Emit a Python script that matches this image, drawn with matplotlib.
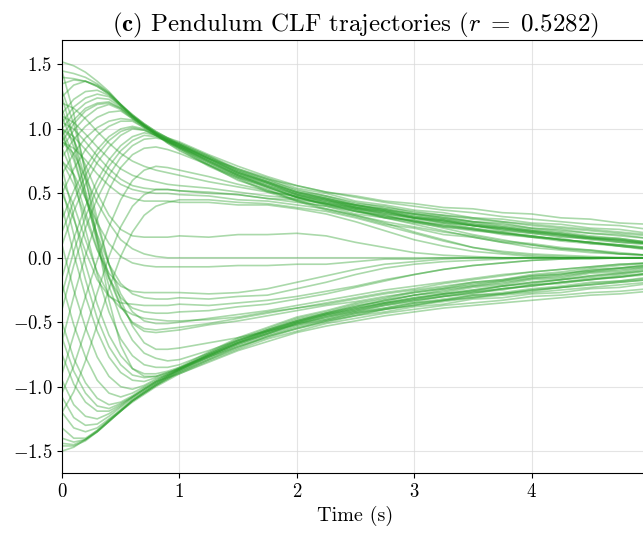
import numpy as np
import matplotlib
matplotlib.use('Agg')
import matplotlib.pyplot as plt

plt.rcParams['font.family'] = 'serif'
plt.rcParams['font.serif'] = ['cmr10']
plt.rcParams['mathtext.fontset'] = 'cm'
plt.rcParams['axes.formatter.use_mathtext'] = True

# sample times (s)
t = [0.0, 0.1, 0.2, 0.3, 0.4, 0.5, 0.6, 0.7, 0.8, 0.9,
	1.0, 1.25, 1.5, 1.75, 2.0, 2.25, 2.5, 2.75, 3.0, 3.25, 3.5, 3.75, 4.0, 4.25, 4.5, 4.75, 5.0]

# trajectories joining the upper bundle
upper = [
	[1.52, 1.49, 1.44, 1.37, 1.29, 1.19, 1.10, 1.03, 0.97, 0.93, 0.90, 0.80, 0.71, 0.63, 0.56, 0.51, 0.47, 0.43, 0.40, 0.37, 0.35, 0.32, 0.30, 0.28, 0.26, 0.25, 0.22],
	[1.45, 1.43, 1.40, 1.35, 1.28, 1.19, 1.10, 1.03, 0.97, 0.92, 0.88, 0.77, 0.67, 0.59, 0.51, 0.46, 0.40, 0.37, 0.32, 0.30, 0.26, 0.24, 0.21, 0.19, 0.16, 0.15, 0.12],
	[1.40, 1.39, 1.37, 1.33, 1.27, 1.18, 1.10, 1.03, 0.97, 0.91, 0.86, 0.74, 0.64, 0.55, 0.47, 0.42, 0.36, 0.33, 0.28, 0.26, 0.22, 0.20, 0.16, 0.15, 0.11, 0.10, 0.07],
	[1.25, 1.34, 1.37, 1.34, 1.28, 1.19, 1.11, 1.04, 0.98, 0.93, 0.89, 0.79, 0.69, 0.62, 0.54, 0.50, 0.44, 0.41, 0.37, 0.35, 0.31, 0.30, 0.27, 0.26, 0.23, 0.22, 0.19],
	[1.12, 1.23, 1.29, 1.30, 1.26, 1.18, 1.10, 1.03, 0.97, 0.92, 0.87, 0.75, 0.65, 0.56, 0.49, 0.43, 0.39, 0.34, 0.31, 0.27, 0.25, 0.21, 0.19, 0.16, 0.15, 0.12, 0.11],
	[1.05, 1.17, 1.24, 1.27, 1.25, 1.18, 1.10, 1.03, 0.96, 0.90, 0.85, 0.72, 0.62, 0.52, 0.45, 0.38, 0.33, 0.28, 0.24, 0.20, 0.17, 0.13, 0.11, 0.08, 0.06, 0.04, 0.02],
	[1.00, 1.12, 1.20, 1.24, 1.23, 1.17, 1.09, 1.02, 0.96, 0.92, 0.88, 0.77, 0.66, 0.59, 0.51, 0.47, 0.41, 0.38, 0.34, 0.32, 0.28, 0.27, 0.23, 0.22, 0.19, 0.18, 0.15],
	[0.95, 1.07, 1.16, 1.20, 1.21, 1.16, 1.09, 1.02, 0.96, 0.91, 0.86, 0.75, 0.64, 0.57, 0.49, 0.45, 0.39, 0.36, 0.31, 0.29, 0.25, 0.23, 0.20, 0.18, 0.15, 0.14, 0.11],
	[0.85, 0.99, 1.09, 1.16, 1.19, 1.15, 1.08, 1.02, 0.96, 0.89, 0.84, 0.71, 0.61, 0.51, 0.44, 0.37, 0.32, 0.26, 0.23, 0.18, 0.16, 0.12, 0.10, 0.07, 0.06, 0.03, 0.02],
	[0.78, 0.92, 1.02, 1.09, 1.13, 1.14, 1.08, 1.02, 0.96, 0.91, 0.87, 0.77, 0.69, 0.61, 0.56, 0.51, 0.48, 0.44, 0.42, 0.39, 0.38, 0.35, 0.34, 0.31, 0.30, 0.27, 0.26],
	[0.65, 0.81, 0.93, 1.01, 1.06, 1.08, 1.07, 1.01, 0.96, 0.90, 0.85, 0.74, 0.63, 0.56, 0.48, 0.44, 0.38, 0.35, 0.31, 0.28, 0.25, 0.22, 0.20, 0.17, 0.15, 0.13, 0.11],
	[0.50, 0.69, 0.84, 0.95, 1.02, 1.06, 1.06, 1.01, 0.95, 0.89, 0.83, 0.72, 0.60, 0.53, 0.44, 0.40, 0.34, 0.31, 0.27, 0.24, 0.21, 0.19, 0.16, 0.14, 0.12, 0.10, 0.08],
	[0.30, 0.52, 0.70, 0.84, 0.94, 1.00, 1.02, 1.00, 0.95, 0.91, 0.87, 0.76, 0.66, 0.58, 0.50, 0.46, 0.41, 0.38, 0.34, 0.31, 0.28, 0.26, 0.23, 0.21, 0.19, 0.17, 0.15],
	[0.10, 0.36, 0.57, 0.74, 0.86, 0.95, 1.00, 0.99, 0.95, 0.90, 0.86, 0.75, 0.64, 0.55, 0.47, 0.41, 0.36, 0.32, 0.28, 0.25, 0.22, 0.19, 0.17, 0.14, 0.12, 0.10, 0.08],
	[-0.15, 0.15, 0.40, 0.60, 0.76, 0.87, 0.94, 0.97, 0.95, 0.92, 0.88, 0.78, 0.67, 0.59, 0.51, 0.46, 0.41, 0.37, 0.33, 0.30, 0.27, 0.24, 0.21, 0.19, 0.16, 0.14, 0.12],
	[-0.40, -0.06, 0.23, 0.46, 0.64, 0.78, 0.87, 0.92, 0.93, 0.91, 0.89, 0.79, 0.68, 0.61, 0.52, 0.48, 0.42, 0.40, 0.35, 0.33, 0.30, 0.28, 0.25, 0.23, 0.21, 0.19, 0.17],
	[-0.65, -0.30, 0.02, 0.30, 0.53, 0.70, 0.80, 0.85, 0.86, 0.84, 0.81, 0.72, 0.62, 0.55, 0.47, 0.42, 0.37, 0.32, 0.29, 0.25, 0.23, 0.19, 0.17, 0.14, 0.12, 0.09, 0.07],
	[1.35, 1.38, 1.37, 1.33, 1.27, 1.19, 1.11, 1.04, 0.98, 0.93, 0.88, 0.78, 0.68, 0.60, 0.53, 0.48, 0.43, 0.39, 0.36, 0.33, 0.31, 0.28, 0.26, 0.24, 0.22, 0.20, 0.18],
	[0.90, 1.04, 1.14, 1.19, 1.20, 1.16, 1.09, 1.02, 0.96, 0.90, 0.85, 0.73, 0.63, 0.54, 0.47, 0.41, 0.37, 0.31, 0.29, 0.24, 0.22, 0.18, 0.16, 0.13, 0.11, 0.09, 0.06],
	[0.20, 0.44, 0.64, 0.80, 0.91, 0.98, 1.01, 0.99, 0.95, 0.90, 0.86, 0.76, 0.65, 0.58, 0.49, 0.45, 0.39, 0.36, 0.31, 0.29, 0.25, 0.23, 0.20, 0.18, 0.15, 0.14, 0.11],
	[-0.28, 0.05, 0.32, 0.54, 0.71, 0.83, 0.91, 0.95, 0.94, 0.91, 0.87, 0.77, 0.66, 0.58, 0.50, 0.45, 0.40, 0.36, 0.32, 0.29, 0.26, 0.23, 0.21, 0.18, 0.16, 0.13, 0.11],
]

# trajectories settling in the upper middle band / at zero
upper_mid = [
	[1.20, 1.16, 1.08, 0.98, 0.89, 0.81, 0.75, 0.71, 0.68, 0.66, 0.64, 0.59, 0.55, 0.51, 0.48, 0.44, 0.41, 0.37, 0.34, 0.31, 0.28, 0.25, 0.22, 0.20, 0.17, 0.15, 0.12],
	[1.10, 1.05, 0.96, 0.86, 0.77, 0.69, 0.64, 0.61, 0.59, 0.57, 0.56, 0.54, 0.51, 0.48, 0.46, 0.42, 0.38, 0.34, 0.30, 0.27, 0.23, 0.20, 0.17, 0.14, 0.12, 0.09, 0.07],
	[-0.90, -0.60, -0.30, -0.02, 0.24, 0.45, 0.60, 0.68, 0.71, 0.70, 0.68, 0.63, 0.57, 0.52, 0.47, 0.43, 0.39, 0.35, 0.31, 0.28, 0.25, 0.22, 0.19, 0.17, 0.14, 0.12, 0.10],
	[-1.05, -0.84, -0.56, -0.27, 0.01, 0.24, 0.40, 0.49, 0.53, 0.53, 0.52, 0.50, 0.49, 0.46, 0.45, 0.42, 0.38, 0.33, 0.28, 0.23, 0.18, 0.14, 0.10, 0.07, 0.05, 0.03, 0.02],
	[1.00, 0.94, 0.84, 0.73, 0.64, 0.57, 0.53, 0.51, 0.50, 0.50, 0.49, 0.48, 0.45, 0.44, 0.41, 0.38, 0.33, 0.27, 0.20, 0.14, 0.08, 0.05, 0.03, 0.02, 0.01, 0.00, 0.00],
	[0.90, 0.85, 0.76, 0.65, 0.56, 0.49, 0.46, 0.44, 0.44, 0.44, 0.43, 0.43, 0.41, 0.41, 0.38, 0.34, 0.28, 0.21, 0.14, 0.09, 0.05, 0.03, 0.01, 0.00, 0.00, 0.00, 0.00],
	[-1.20, -1.04, -0.80, -0.52, -0.24, 0.01, 0.20, 0.33, 0.40, 0.43, 0.45, 0.45, 0.43, 0.42, 0.39, 0.36, 0.31, 0.25, 0.19, 0.13, 0.08, 0.04, 0.02, 0.01, 0.00, 0.00, 0.00],
	[1.00, 0.91, 0.72, 0.50, 0.33, 0.22, 0.17, 0.16, 0.16, 0.16, 0.17, 0.16, 0.18, 0.18, 0.19, 0.17, 0.12, 0.08, 0.04, 0.02, 0.01, 0.00, 0.00, 0.00, 0.00, 0.00, 0.00],
	[0.90, 0.81, 0.62, 0.43, 0.27, 0.14, 0.07, 0.03, 0.01, 0.00, 0.00, 0.00, 0.00, 0.00, 0.00, 0.00, 0.00, 0.00, 0.00, 0.00, 0.00, 0.00, 0.00, 0.00, 0.00, 0.00, 0.00],
	[0.75, 0.65, 0.46, 0.27, 0.11, 0.01, -0.04, -0.06, -0.07, -0.07, -0.07, -0.07, -0.06, -0.06, -0.05, -0.05, -0.03, -0.01, -0.01, 0.00, 0.00, 0.00, 0.00, 0.00, 0.00, 0.00, 0.00],
	[1.05, 1.00, 0.90, 0.79, 0.69, 0.61, 0.56, 0.54, 0.53, 0.53, 0.52, 0.51, 0.49, 0.46, 0.43, 0.40, 0.36, 0.31, 0.26, 0.21, 0.16, 0.12, 0.08, 0.06, 0.04, 0.03, 0.02],
]

# trajectories joining the lower bundle
lower = [
	[-1.50, -1.47, -1.41, -1.34, -1.26, -1.19, -1.12, -1.06, -1.00, -0.95, -0.90, -0.80, -0.71, -0.63, -0.57, -0.51, -0.47, -0.43, -0.40, -0.37, -0.35, -0.33, -0.30, -0.29, -0.27, -0.26, -0.24],
	[-1.46, -1.46, -1.42, -1.35, -1.27, -1.19, -1.11, -1.05, -0.99, -0.94, -0.88, -0.78, -0.68, -0.60, -0.53, -0.48, -0.43, -0.39, -0.35, -0.32, -0.29, -0.27, -0.24, -0.22, -0.19, -0.18, -0.15],
	[-1.40, -1.43, -1.41, -1.35, -1.27, -1.19, -1.11, -1.05, -0.99, -0.93, -0.87, -0.75, -0.65, -0.56, -0.49, -0.43, -0.38, -0.33, -0.29, -0.26, -0.22, -0.20, -0.16, -0.15, -0.11, -0.10, -0.07],
	[-1.32, -1.40, -1.40, -1.34, -1.26, -1.18, -1.11, -1.04, -0.98, -0.93, -0.89, -0.79, -0.69, -0.62, -0.55, -0.50, -0.45, -0.42, -0.38, -0.36, -0.32, -0.31, -0.28, -0.27, -0.24, -0.23, -0.20],
	[-1.20, -1.32, -1.35, -1.32, -1.25, -1.18, -1.10, -1.04, -0.98, -0.92, -0.86, -0.74, -0.63, -0.55, -0.47, -0.42, -0.36, -0.32, -0.27, -0.24, -0.20, -0.18, -0.14, -0.13, -0.09, -0.08, -0.05],
	[-1.08, -1.24, -1.30, -1.29, -1.23, -1.16, -1.09, -1.03, -0.97, -0.92, -0.88, -0.77, -0.67, -0.59, -0.52, -0.46, -0.42, -0.37, -0.34, -0.30, -0.28, -0.24, -0.22, -0.19, -0.17, -0.14, -0.12],
	[-0.95, -1.14, -1.23, -1.25, -1.21, -1.15, -1.08, -1.02, -0.97, -0.92, -0.87, -0.76, -0.66, -0.58, -0.50, -0.45, -0.40, -0.36, -0.32, -0.29, -0.26, -0.24, -0.21, -0.19, -0.16, -0.15, -0.12],
	[-0.75, -0.98, -1.12, -1.19, -1.19, -1.14, -1.08, -1.02, -0.96, -0.91, -0.86, -0.75, -0.64, -0.56, -0.48, -0.43, -0.37, -0.34, -0.29, -0.27, -0.23, -0.21, -0.17, -0.16, -0.12, -0.11, -0.08],
	[-0.50, -0.78, -0.97, -1.09, -1.14, -1.12, -1.07, -1.01, -0.96, -0.93, -0.90, -0.81, -0.72, -0.65, -0.58, -0.53, -0.49, -0.45, -0.42, -0.39, -0.37, -0.35, -0.33, -0.31, -0.29, -0.28, -0.26],
	[-0.20, -0.52, -0.77, -0.95, -1.05, -1.08, -1.05, -1.00, -0.95, -0.90, -0.85, -0.73, -0.62, -0.54, -0.46, -0.41, -0.35, -0.31, -0.26, -0.23, -0.19, -0.17, -0.13, -0.11, -0.08, -0.06, -0.04],
	[0.10, -0.25, -0.54, -0.77, -0.92, -1.00, -1.02, -0.99, -0.94, -0.91, -0.87, -0.77, -0.67, -0.59, -0.51, -0.46, -0.41, -0.37, -0.33, -0.30, -0.27, -0.25, -0.21, -0.20, -0.17, -0.15, -0.12],
	[0.40, 0.03, -0.30, -0.57, -0.77, -0.89, -0.95, -0.96, -0.93, -0.90, -0.86, -0.75, -0.65, -0.57, -0.50, -0.44, -0.40, -0.35, -0.32, -0.28, -0.26, -0.22, -0.20, -0.17, -0.15, -0.13, -0.10],
	[0.70, 0.32, -0.05, -0.36, -0.60, -0.76, -0.86, -0.90, -0.90, -0.88, -0.85, -0.76, -0.66, -0.59, -0.51, -0.47, -0.42, -0.39, -0.35, -0.33, -0.29, -0.28, -0.25, -0.23, -0.21, -0.19, -0.17],
	[1.00, 0.63, 0.22, -0.13, -0.42, -0.63, -0.76, -0.83, -0.85, -0.85, -0.83, -0.74, -0.64, -0.57, -0.49, -0.44, -0.39, -0.35, -0.31, -0.28, -0.25, -0.22, -0.19, -0.17, -0.14, -0.12, -0.09],
	[1.25, 0.92, 0.50, 0.11, -0.22, -0.47, -0.64, -0.74, -0.78, -0.80, -0.79, -0.72, -0.64, -0.56, -0.49, -0.43, -0.38, -0.33, -0.29, -0.25, -0.22, -0.19, -0.16, -0.14, -0.11, -0.09, -0.07],
	[-1.44, -1.45, -1.41, -1.35, -1.27, -1.19, -1.11, -1.05, -0.99, -0.94, -0.89, -0.79, -0.70, -0.61, -0.55, -0.49, -0.45, -0.40, -0.37, -0.33, -0.31, -0.28, -0.26, -0.23, -0.21, -0.19, -0.17],
	[-0.62, -0.88, -1.05, -1.15, -1.17, -1.13, -1.08, -1.02, -0.96, -0.91, -0.87, -0.76, -0.66, -0.57, -0.50, -0.44, -0.39, -0.35, -0.31, -0.28, -0.25, -0.22, -0.19, -0.17, -0.14, -0.12, -0.10],
	[0.55, 0.18, -0.17, -0.47, -0.69, -0.83, -0.91, -0.93, -0.92, -0.89, -0.86, -0.76, -0.66, -0.58, -0.51, -0.45, -0.41, -0.36, -0.33, -0.30, -0.27, -0.24, -0.22, -0.19, -0.17, -0.15, -0.13],
]

# trajectories settling in the lower middle band
lower_mid = [
	[0.95, 0.76, 0.47, 0.18, -0.05, -0.20, -0.28, -0.31, -0.32, -0.32, -0.31, -0.32, -0.30, -0.29, -0.24, -0.19, -0.13, -0.08, -0.05, -0.03, -0.02, -0.01, 0.00, 0.00, 0.00, 0.00, 0.00],
	[0.85, 0.64, 0.35, 0.07, -0.16, -0.31, -0.39, -0.42, -0.43, -0.43, -0.42, -0.41, -0.38, -0.36, -0.32, -0.28, -0.23, -0.18, -0.13, -0.09, -0.06, -0.04, -0.02, -0.01, -0.01, 0.00, 0.00],
	[1.10, 0.86, 0.52, 0.17, -0.14, -0.37, -0.51, -0.57, -0.58, -0.57, -0.56, -0.52, -0.49, -0.45, -0.41, -0.37, -0.34, -0.30, -0.27, -0.24, -0.21, -0.18, -0.15, -0.13, -0.10, -0.08, -0.06],
	[1.30, 1.04, 0.68, 0.30, -0.05, -0.33, -0.53, -0.66, -0.71, -0.71, -0.70, -0.66, -0.62, -0.57, -0.52, -0.48, -0.43, -0.40, -0.36, -0.33, -0.30, -0.28, -0.25, -0.23, -0.20, -0.18, -0.16],
	[0.60, 0.41, 0.14, -0.11, -0.29, -0.39, -0.44, -0.47, -0.48, -0.49, -0.49, -0.48, -0.46, -0.42, -0.39, -0.35, -0.31, -0.27, -0.24, -0.20, -0.17, -0.14, -0.11, -0.09, -0.07, -0.05, -0.04],
	[0.75, 0.57, 0.31, 0.06, -0.12, -0.22, -0.26, -0.27, -0.27, -0.27, -0.27, -0.28, -0.27, -0.24, -0.19, -0.14, -0.09, -0.05, -0.03, -0.01, 0.00, 0.00, 0.00, 0.00, 0.00, 0.00, 0.00],
	[1.00, 0.79, 0.47, 0.14, -0.16, -0.38, -0.50, -0.55, -0.56, -0.55, -0.54, -0.51, -0.47, -0.43, -0.39, -0.36, -0.32, -0.28, -0.25, -0.22, -0.19, -0.17, -0.14, -0.12, -0.10, -0.08, -0.06],
	[1.45, 1.12, 0.64, 0.14, -0.33, -0.68, -0.86, -0.92, -0.92, -0.89, -0.86, -0.77, -0.69, -0.61, -0.54, -0.49, -0.44, -0.40, -0.37, -0.34, -0.31, -0.29, -0.27, -0.25, -0.23, -0.21, -0.19],
	[1.15, 0.93, 0.60, 0.26, -0.05, -0.28, -0.42, -0.49, -0.51, -0.51, -0.50, -0.47, -0.44, -0.41, -0.37, -0.33, -0.29, -0.25, -0.22, -0.19, -0.16, -0.13, -0.11, -0.09, -0.07, -0.05, -0.04],
	[0.50, 0.30, 0.05, -0.17, -0.30, -0.35, -0.36, -0.37, -0.37, -0.37, -0.36, -0.37, -0.35, -0.33, -0.30, -0.26, -0.22, -0.17, -0.13, -0.09, -0.06, -0.04, -0.02, -0.01, 0.00, 0.00, 0.00],
]

fig = plt.figure(figsize=(6.43, 5.35), dpi=100)
ax = fig.add_axes([62/643., 62/535., 587/643., 433/535.])

for group in [upper, upper_mid, lower, lower_mid]:
	for traj in group:
		ax.plot(t, traj, color='#2ca02c', alpha=0.4, lw=1.2, solid_joinstyle='round')

ax.set_xlim(0, 5)
ax.set_ylim(-1.67, 1.69)
ax.set_xticks([0, 1, 2, 3, 4])
ax.set_yticks([-1.5, -1.0, -0.5, 0.0, 0.5, 1.0, 1.5])
ax.grid(True, color='#d9d9d9', lw=0.8, alpha=0.7)
ax.spines['right'].set_visible(False)
ax.tick_params(labelsize=13.5)
ax.set_xlabel('Time (s)', fontsize=14.5)
ax.set_title(r'($\mathbf{c}$) Pendulum CLF trajectories ($r\;=\;0.5282$)', fontsize=18)

plt.savefig('out.png', dpi=100)
